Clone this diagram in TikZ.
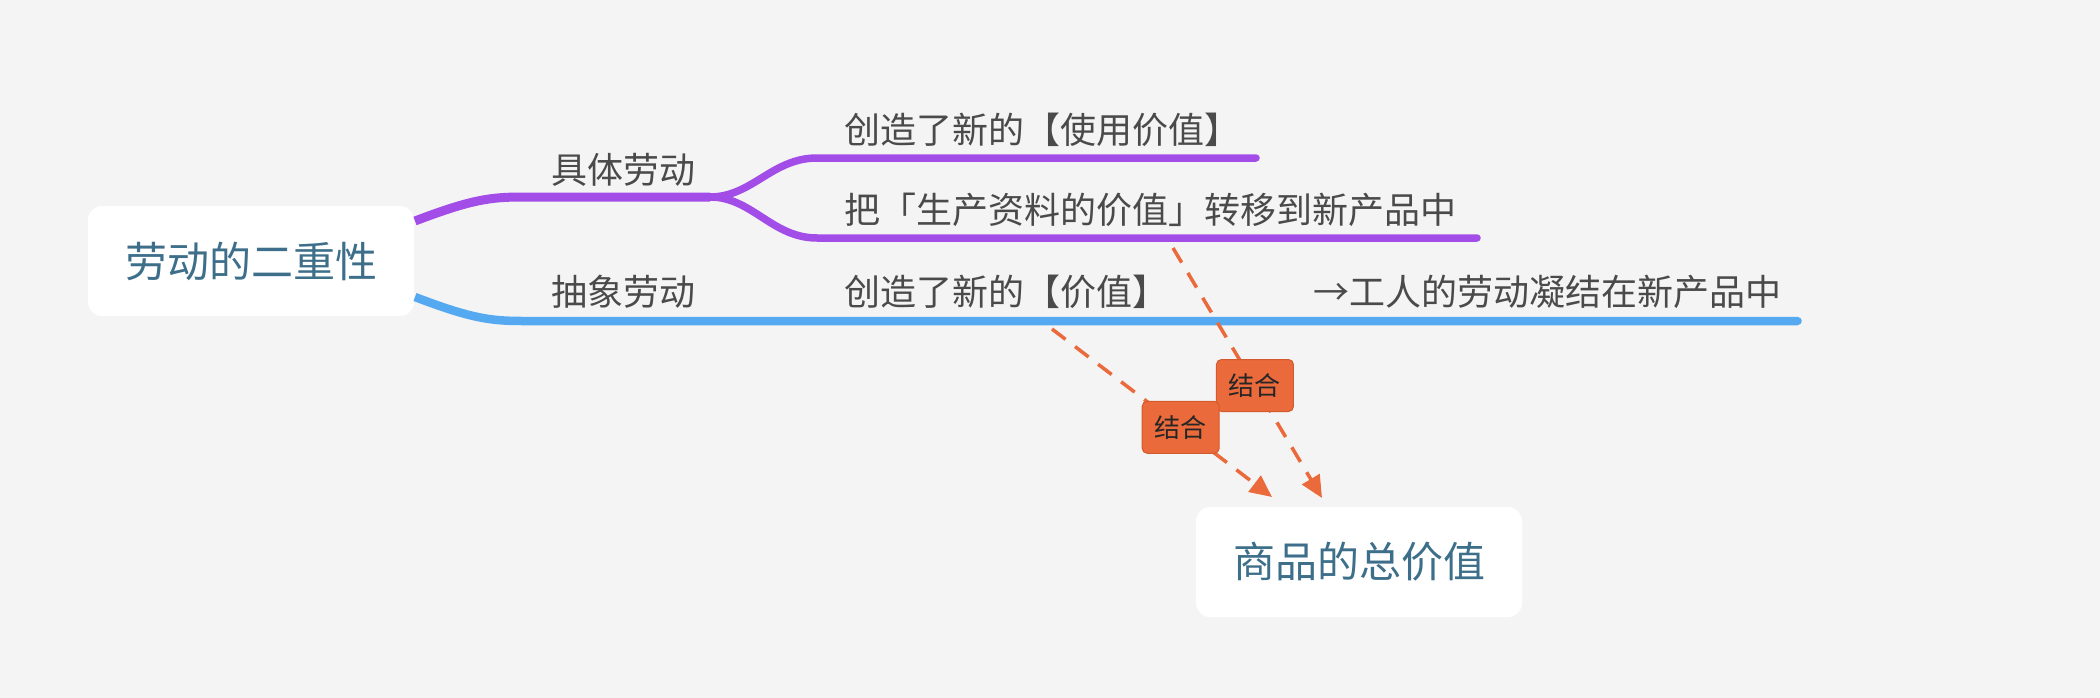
\documentclass[tikz,border=0pt]{standalone}
\usepackage{fontspec}
\setmainfont{Noto Sans CJK SC}
\usetikzlibrary{arrows.meta}
\definecolor{bg}{HTML}{F4F4F4}
\definecolor{txt}{HTML}{4A4A4A}
\definecolor{rootc}{HTML}{3D6F8A}
\definecolor{purp}{HTML}{A24DE8}
\definecolor{blu}{HTML}{55A9F0}
\definecolor{org}{HTML}{EA6A3B}
\definecolor{orgd}{HTML}{D25A2D}
\tikzset{
  topicbox/.style={fill=white, rounded corners=14pt, minimum width=326pt, minimum height=110pt,
    text=rootc, font=\fontsize{42}{50}\selectfont, inner sep=0pt},
  lbl/.style={anchor=west, text=txt, font=\fontsize{36}{44}\selectfont, inner sep=0pt},
  clbl/.style={text=txt, font=\fontsize{36}{44}\selectfont, inner sep=0pt},
  purpline/.style={draw=purp, line width=7.5pt, line cap=round},
  bluline/.style={draw=blu, line width=7.5pt, line cap=round},
  rel/.style={draw=org, line width=3.5pt, dash pattern=on 17pt off 12pt,
    -{Triangle[length=22pt,width=20pt]}},
  tag/.style={fill=org, draw=orgd, line width=1pt, rounded corners=5pt, minimum width=77pt,
    minimum height=52pt, inner sep=0pt, font=\fontsize{26}{30}\selectfont, text=black!85, solid}
}
\begin{document}
\begin{tikzpicture}[x=1pt,y=-1pt]
\fill[bg] (0,0) rectangle (2100,698);
\useasboundingbox (0,0) rectangle (2100,698);

% nodes
\node[topicbox] (root) at (251,261) {劳动的二重性};
\node[topicbox] (res) at (1359,562) {商品的总价值};

\node[clbl] (jt) at (623,170) {具体劳动};
\node[clbl] (cx) at (623,292) {抽象劳动};
\node[lbl] (syjz) at (844,130) {创造了新的【使用价值】};
\node[lbl] (zy) at (844,210) {把「生产资料的价值」转移到新产品中};
\node[lbl] (jz) at (844,292) {创造了新的【价值】};
\node[lbl] (nd) at (1313,292) {→工人的劳动凝结在新产品中};

% branch coordinates
\coordinate (rp) at (415,221);
\coordinate (rb) at (415,297);
\coordinate (p1) at (522,197);
\coordinate (p2) at (710,197);
\coordinate (pa) at (817,158);
\coordinate (pae) at (1256,158);
\coordinate (pb) at (817,238);
\coordinate (pbe) at (1477,238);
\coordinate (b1) at (522,321);
\coordinate (b2) at (1798,321);

\draw[purpline, line width=9pt, line cap=butt] (rp) .. controls (470,200) and (490,197) .. (p1) -- (p2);
\draw[purpline] (p2) .. controls (752,197) and (772,158) .. (pa) -- (pae);
\draw[purpline] (p2) .. controls (752,197) and (772,238) .. (pb) -- (pbe);
\draw[bluline, line width=8.5pt, line cap=butt] (rb) .. controls (470,318) and (490,321) .. (b1) -- (b2);
\draw[bluline, line cap=round] (1700,321) -- (b2);

% relationship arrows
\coordinate (s1) at (1173,248);
\coordinate (e1) at (1322,498);
\coordinate (s2) at (1052,329);
\coordinate (e2) at (1272,497);
\draw[rel] (s1) -- (e1) node[tag, pos=0.55] (t1) {结合};
\draw[rel] (s2) -- (e2) node[tag, pos=0.585] (t2) {结合};
\end{tikzpicture}
\end{document}
